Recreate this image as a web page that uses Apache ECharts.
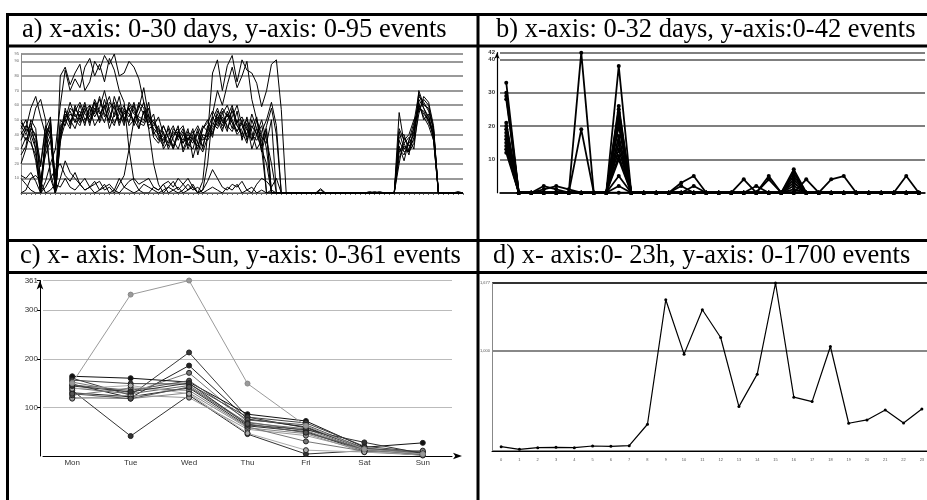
<!DOCTYPE html>
<html>
<head>
<meta charset="utf-8">
<script src="https://cdn.jsdelivr.net/npm/echarts@6.0.0/dist/echarts.min.js"></script>
<style>
html, body { margin: 0; padding: 0; background: #fff; }
#chart { width: 927px; height: 500px; }
</style>
</head>
<body>
<div id="chart"></div>
<script>
// ---- panel titles ----
var titles = [
    'a) x-axis: 0-30 days, y-axis: 0-95 events',
    'b) x-axis: 0-32 days, y-axis:0-42 events',
    'c) x- axis: Mon-Sun, y-axis: 0-361 events',
    'd) x- axis:0- 23h, y-axis: 0-1700 events'
];

// ---- a) 30 days, three samples a day ----
var daysA = ['0','0.3','0.7','1','1.3','1.7','2','2.3','2.7','3','3.3','3.7','4','4.3','4.7','5','5.3','5.7',
    '6','6.3','6.7','7','7.3','7.7','8','8.3','8.7','9','9.3','9.7','10','10.3','10.7','11','11.3','11.7',
    '12','12.3','12.7','13','13.3','13.7','14','14.3','14.7','15','15.3','15.7','16','16.3','16.7','17','17.3','17.7',
    '18','18.3','18.7','19','19.3','19.7','20','20.3','20.7','21','21.3','21.7','22','22.3','22.7','23','23.3','23.7',
    '24','24.3','24.7','25','25.3','25.7','26','26.3','26.7','27','27.3','27.7','28','28.3','28.7','29','29.3','29.7','30'];

var a01 = [48,44,40,30,0,38,46,0,40,52,56,48,60,50,55,62,48,58,66,52,60,50,58,46,54,62,50,44,40,36,44,30,40,34,42,38,30,44,48,56,50,58,52,60,46,40,52,36,44,28,42,0,0,0,0,
    0,0,0,0,0,0,2,0,0,0,0,0,0,0,0,0,1,0,1,0,0, 0,42,30,34,40,64,58,52,40,0, 0,0,0,1,0];
var a02 = [44,50,36,22,0,30,40,12,46,50,44,58,52,62,48,56,64,54,50,60,46,56,52,62,48,46,54,38,34,42,30,38,46,28,36,44,26,40,38,50,58,48,54,44,56,36,48,30,40,50,36,20,0,0,0,
    0,0,0,0,0,0,3,0,0,0,0,0,0,0,0,0,0,0,0,0,0, 0,30,26,36,44,60,54,50,38,0, 0,0,0,0,0];
var a03 = [40,46,42,35,18,44,52,0,36,48,54,50,46,56,60,52,58,70,56,48,54,60,46,50,58,72,52,48,44,34,40,46,36,42,30,38,40,32,44,52,46,54,60,50,42,48,38,44,52,32,46,58,40,0,0,
    0,0,0,0,0,0,0,0,0,0,0,0,0,0,0,0,0,0,0,0,0, 0,24,32,28,38,66,62,56,44,0, 0,0,0,0,0];
var a04 = [50,42,46,38,10,26,36,4,42,56,50,44,54,48,58,46,52,60,44,54,66,48,62,56,50,48,58,42,36,46,38,32,42,46,34,30,42,36,40,46,54,44,50,56,46,42,34,50,40,46,30,0,0,0,0,
    0,0,0,0,0,0,0,0,0,0,0,0,0,0,0,0,0,0,0,0,0, 0,36,28,30,42,58,56,48,40,0, 0,0,0,0,0];
var a05 = [30,38,34,26,0,40,48,8,50,46,58,54,48,60,52,64,56,48,62,58,50,54,58,48,60,54,46,50,42,38,32,44,40,36,44,24,36,46,42,48,44,52,46,42,50,38,44,40,36,42,50,62,46,0,0,
    0,0,0,0,0,0,0,0,0,0,0,0,0,0,0,0,0,0,0,0,0, 0,20,38,32,36,70,60,58,42,0, 0,0,0,0,0];
var a06 = [46,40,48,30,4,34,44,0,38,54,48,56,62,54,50,58,50,64,52,46,58,52,48,60,44,56,48,54,38,32,46,36,30,40,36,42,34,28,38,44,50,42,56,48,40,44,50,42,30,36,44,0,0,0,0,
    0,0,0,0,0,0,0,0,0,0,0,0,0,0,0,0,0,0,0,0,0, 0,55,34,26,46,62,50,54,36,0, 0,0,0,0,0];
var a07 = [20,30,44,58,64,50,10,0,80,86,74,82,88,70,76,90,84,94,88,95,80,82,90,86,78,62,44,20,6,0,4,8,2,6,10,4,0,8,40,82,91,70,87,94,76,91,84,82,75,59,70,88,91,57,0,
    0,0,0,0,0,0,0,0,0,0,0,0,0,0,0,0,0,0,0,0,0, 0,44,36,40,50,56,64,60,44,0, 0,0,0,0,0];
var a08 = [10,6,2,0,0,8,20,30,60,84,70,78,72,86,92,80,88,76,92,84,70,62,30,8,2,0,0,4,2,6,0,2,4,0,2,6,0,2,20,54,70,60,74,86,72,80,90,64,50,30,0,0,0,0,0,
    0,0,0,0,0,0,0,0,0,0,0,0,0,0,0,0,0,0,0,0,0, 0,0,0,0,0,0,0,0,0,0, 0,0,0,0,0];
var a09 = [12,10,14,8,0,4,10,16,20,12,8,14,6,10,4,8,2,6,0,2,10,4,8,10,6,8,10,4,2,6,8,4,10,6,2,4,0,2,8,16,10,4,2,6,4,8,2,0,6,10,8,4,10,0,0,
    0,0,0,0,0,0,0,0,0,0,0,0,0,0,0,0,0,1,0,0,0, 0,0,0,0,0,0,0,0,0,0, 0,0,0,0,0];
var a10 = [36,44,58,66,52,40,14,0,10,22,14,10,6,2,4,6,8,2,4,0,6,12,30,50,44,56,52,48,40,46,38,30,42,34,40,36,32,44,50,40,52,46,54,48,42,50,36,46,40,30,20,0,0,0,0,
    0,0,0,0,0,0,0,0,0,0,0,0,0,0,0,0,0,0,0,0,0, 0,38,40,28,34,54,66,62,46,0, 0,0,0,0,0];
var a11 = [42,36,44,40,20,46,40,2,44,50,62,52,56,46,60,54,66,52,58,62,48,58,54,50,62,58,44,46,52,40,34,42,38,44,32,40,46,38,36,42,48,56,44,52,60,46,40,54,44,38,34,50,0,0,0,
    0,0,0,0,0,0,0,0,0,0,0,0,0,0,0,0,0,0,0,0,0, 0,28,34,38,30,60,52,46,36,0, 0,0,0,0,0];
var a12 = [26,32,50,44,6,36,50,0,34,58,46,60,50,58,46,62,54,60,48,66,56,46,60,54,52,50,62,40,46,30,36,40,44,30,38,34,44,30,46,38,56,50,42,58,48,52,44,36,50,40,0,0,0,0,0,
    0,0,0,0,0,0,0,0,0,0,0,0,0,0,0,0,0,0,0,0,0, 0,32,22,36,48,68,58,50,42,0, 0,0,0,0,0];
var a13 = [0,2,10,12,8,0,2,6,4,10,4,2,6,2,4,0,2,4,6,2,0,4,2,0,2,6,4,2,0,2,4,2,0,2,6,2,4,0,2,4,2,0,4,2,6,0,2,4,0,2,0,2,0,0,0,
    0,0,0,0,0,0,0,0,0,0,0,0,0,0,0,0,0,0,0,0,0, 0,0,0,0,0,0,0,0,0,0, 0,0,0,0,0];
var monthA = [a01, a02, a03, a04, a05, a06, a07, a08, a09, a10, a11, a12, a13];

// ---- b) 0-32 days ----
var daysB = ['0','1','2','3','4','5','6','7','8','9','10','11','12','13','14','15','16','17','18','19','20',
    '21','22','23','24','25','26','27','28','29','30','31','32','33'];
var b01 = [33,0,0,0,0,0,42,0,0,38,0,0,0,0,0,0,0,0,0,0,0,0,0,7,0,0,0,0,0,0,0,0,0,0];
var b02 = [30,0,0,0,0,0,19,0,0,26,0,0,0,0,0,0,0,0,0,0,0,5,0,0,0,0,4,5,0,0,0,0,0,0];
var b03 = [29,0,0,2,1,0,0,0,0,25,0,0,0,0,3,5,0,0,0,0,0,0,0,5,0,0,0,0,0,0,0,0,0,0];
var b04 = [28,0,0,1,2,1,0,0,0,24,0,0,0,0,0,0,0,0,0,4,0,0,0,4,0,0,0,0,0,0,0,0,0,0];
var b05 = [21,0,0,0,0,0,0,0,0,22,0,0,0,0,0,2,0,0,0,0,2,0,0,0,4,0,0,0,0,0,0,0,0,0];
var b06 = [20,0,0,0,0,0,0,0,0,17,0,0,0,0,0,0,0,0,0,0,0,4,0,3,0,0,0,0,0,0,0,0,5,0];
var b07 = [19,0,0,0,0,0,0,0,0,13,0,0,0,0,2,0,0,0,0,0,0,0,0,2,0,0,0,0,0,0,0,0,0,0];
var b08 = [17,0,0,0,0,0,0,0,0,10,0,0,0,0,0,0,0,0,0,0,0,0,0,6,0,0,0,0,0,0,0,0,0,0];
var b09 = [15,0,0,0,0,0,0,0,0,2,0,0,0,0,0,0,0,0,0,0,0,0,0,1,0,0,0,0,0,0,0,0,0,0];
var b10 = [13,0,0,0,0,0,0,0,0,0,0,0,0,0,0,0,0,0,0,0,0,0,0,0,0,0,0,0,0,0,0,0,0,0];
var b11 = [16,0,0,0,0,0,0,0,0,20,0,0,0,0,0,0,0,0,0,0,0,0,0,0,0,0,0,0,0,0,0,0,0,0];
var b12 = [14,0,0,0,0,0,0,0,0,15,0,0,0,0,0,0,0,0,0,0,0,0,0,0,0,0,0,0,0,0,0,0,0,0];
var b13 = [18,0,0,0,0,0,0,0,0,11,0,0,0,0,0,0,0,0,0,0,0,0,0,0,0,0,0,0,0,0,0,0,0,0];
var b14 = [12,0,0,0,0,0,0,0,0,5,0,0,0,0,0,0,0,0,0,0,0,0,0,0,0,0,0,0,0,0,0,0,0,0];
var monthB = [b01, b02, b03, b04, b05, b06, b07, b08, b09, b10, b11, b12, b13, b14];

// ---- c) Mon-Sun ----
var weekDays = ['Mon', 'Tue', 'Wed', 'Thu', 'Fri', 'Sat', 'Sun'];
var c01 = [150, 332, 361, 149, 62, 14, 4];
var c02 = [135, 41, 125, 45, 4, 11, 4];
var c03 = [160, 125, 213, 80, 58, 16, 8];
var c04 = [148, 120, 186, 76, 60, 14, 5];
var c05 = [152, 130, 171, 70, 52, 12, 3];
var c06 = [164, 160, 152, 86, 72, 18, 27];
var c07 = [156, 149, 148, 80, 68, 20, 8];
var c08 = [146, 135, 155, 74, 64, 16, 6];
var c09 = [140, 128, 145, 68, 56, 12, 4];
var c10 = [130, 122, 140, 62, 50, 10, 2];
var c11 = [120, 118, 130, 58, 46, 8, 2];
var c12 = [118, 125, 120, 55, 42, 12, 1];
var c13 = [125, 140, 135, 60, 30, 10, 11];
var c14 = [138, 145, 128, 47, 12, 8, 5];
var c15 = [144, 132, 150, 64, 54, 28, 5];
var c16 = [128, 118, 142, 66, 48, 14, 3];
var week = [c01, c02, c03, c04, c05, c06, c07, c08, c09, c10, c11, c12, c13, c14, c15, c16];
var weekColors = ['#9a9a9a', '#333', '#3a3a3a', '#222', '#777', '#111', '#444', '#555', '#666', '#2a2a2a',
    '#888', '#999', '#777', '#aaa', '#333', '#555'];

// ---- d) 0-23h ----
var hours = ['0','1','2','3','4','5','6','7','8','9','10','11','12','13','14','15','16','17','18','19','20','21','22','23'];
var perHour = [43, 17, 33, 37, 33, 50, 47, 53, 267, 1510, 967, 1410, 1133, 443, 767, 1677, 537, 493, 1043, 277, 310, 410, 280, 420];

var serif = '"Liberation Serif", "DejaVu Serif", serif';
var sans = '"Liberation Sans", Arial, sans-serif';

function fitSize(text, width) {
    var ctx = document.createElement('canvas').getContext('2d');
    ctx.font = '100px ' + serif;
    return 100 * width / ctx.measureText(text).width;
}
var titleWidths = [430, 421, 435, 417];
var titleSize = 0;
titles.forEach(function (t, i) { titleSize += fitSize(t, titleWidths[i]) / 4; });

var titleX = [22, 496, 20, 493];
var titleY = [30, 30, 256, 256];

var graphics = [];
titles.forEach(function (t, i) {
    graphics.push({
        type: 'text', x: titleX[i], y: titleY[i], z: 100,
        style: { text: t, fontSize: titleSize, fontFamily: serif, fill: '#000', verticalAlign: 'middle' }
    });
});
var rules = [
    [6, 14.5, 927, 14.5], [6, 46, 927, 46], [6, 240.5, 927, 240.5], [6, 272.5, 927, 272.5],
    [7.5, 13, 7.5, 500], [478, 13, 478, 500]
];
rules.forEach(function (r) {
    graphics.push({
        type: 'line', z: 100,
        shape: { x1: r[0], y1: r[1], x2: r[2], y2: r[3] },
        style: { stroke: '#000', lineWidth: 3 }
    });
});

var chart = echarts.init(document.getElementById('chart'), null, { renderer: 'canvas' });

var series = [];
monthA.forEach(function (arr) {
    series.push({
        type: 'line', xAxisIndex: 0, yAxisIndex: 0, data: arr, showSymbol: false,
        lineStyle: { color: '#000', width: 1 }, silent: true
    });
});
monthB.forEach(function (arr) {
    series.push({
        type: 'line', xAxisIndex: 1, yAxisIndex: 1, data: arr,
        symbol: 'circle', symbolSize: 4, showAllSymbol: true,
        itemStyle: { color: '#000' }, lineStyle: { color: '#000', width: 1.8 }, silent: true
    });
});
week.forEach(function (arr, i) {
    series.push({
        type: 'line', xAxisIndex: 3, yAxisIndex: 2, data: arr,
        symbol: 'circle', symbolSize: 5, showAllSymbol: true, z: i === 0 ? 3 : 2,
        itemStyle: { color: weekColors[i], borderColor: i === 0 ? '#888' : '#222', borderWidth: 1 },
        lineStyle: { color: weekColors[i], width: 1 }, silent: true
    });
});
series.push({
    type: 'line', xAxisIndex: 4, yAxisIndex: 3, data: perHour,
    symbol: 'circle', symbolSize: 3, showAllSymbol: true,
    itemStyle: { color: '#000' }, lineStyle: { color: '#000', width: 1.2 }, silent: true
});

var tinyLabel = { fontSize: 4, color: '#555', fontFamily: sans };

chart.setOption({
    animation: false,
    backgroundColor: '#fff',
    graphic: graphics,
    grid: [
        { left: 21, top: 54, width: 442, height: 139, outerBoundsMode: 'none' },
        { left: 500, top: 52.7, width: 425, height: 140, outerBoundsMode: 'none' },
        { left: 43, top: 280.5, width: 409, height: 175.5, outerBoundsMode: 'none' },
        { left: 492, top: 283, width: 439, height: 168, outerBoundsMode: 'none' }
    ],
    xAxis: [
        {
            gridIndex: 0, type: 'category', data: daysA, boundaryGap: false,
            axisLine: { lineStyle: { color: '#555', width: 1 } },
            axisTick: { interval: 0, length: 2, lineStyle: { color: '#666' } },
            axisLabel: { show: false }, splitLine: { show: false }
        },
        {
            gridIndex: 1, type: 'category', data: daysB, boundaryGap: true,
            axisLine: { lineStyle: { color: '#000', width: 1.5 } },
            axisTick: { interval: 0, length: 3, lineStyle: { color: '#000' } },
            axisLabel: { show: false }, splitLine: { show: false }
        },
        {
            gridIndex: 1, type: 'category', data: daysB, boundaryGap: true, position: 'bottom',
            axisLine: { show: false },
            axisTick: { interval: 0, alignWithLabel: true, length: 3, lineStyle: { color: '#000' } },
            axisLabel: { show: false }, splitLine: { show: false }
        },
        {
            gridIndex: 2, type: 'category', data: weekDays, boundaryGap: true,
            axisLine: { symbol: ['none', 'arrow'], symbolSize: [5, 9], symbolOffset: [0, 10], lineStyle: { color: '#000', width: 1 } },
            axisTick: { interval: 0, length: 4, lineStyle: { color: '#000' } },
            axisLabel: { fontSize: 8, color: '#333', fontFamily: sans, margin: 3 },
            splitLine: { show: false }
        },
        {
            gridIndex: 3, type: 'category', data: hours, boundaryGap: true,
            axisLine: { lineStyle: { color: '#000', width: 1 } },
            axisTick: { interval: 0, length: 4, lineStyle: { color: '#000' } },
            axisLabel: Object.assign({ interval: 0, margin: 7 }, tinyLabel),
            splitLine: { show: false }
        },
        {
            gridIndex: 3, type: 'category', data: hours, boundaryGap: true, position: 'bottom',
            axisLine: { show: false },
            axisTick: { interval: 0, alignWithLabel: true, length: 4, lineStyle: { color: '#000' } },
            axisLabel: { show: false }, splitLine: { show: false }
        }
    ],
    yAxis: [
        {
            gridIndex: 0, type: 'value', min: 0, max: 95, interval: 10,
            axisLine: { show: true, lineStyle: { color: '#888', width: 1 } },
            axisTick: { show: false },
            axisLabel: { fontSize: 4, color: '#666', margin: 2, fontFamily: sans, showMinLabel: false },
            splitLine: { lineStyle: { color: '#999', width: 2 } }
        },
        {
            gridIndex: 1, type: 'value', min: 0, max: 42, interval: 10, offset: 3,
            axisLine: { show: true, symbol: ['none', 'arrow'], symbolSize: [4, 6], lineStyle: { color: '#000', width: 1.2 } },
            axisTick: { show: false },
            axisLabel: { fontSize: 6, color: '#333', margin: 2, fontFamily: sans, fontWeight: 'bold', showMinLabel: false },
            splitLine: { lineStyle: { color: '#555', width: 1.5 } }
        },
        {
            gridIndex: 2, type: 'value', min: 0, max: 361, interval: 100, offset: 3,
            axisLine: { show: true, symbol: ['none', 'arrow'], symbolSize: [5, 9], lineStyle: { color: '#000', width: 1 } },
            axisTick: { show: true, length: 3, lineStyle: { color: '#000' } },
            axisLabel: { fontSize: 8, color: '#333', margin: 2, fontFamily: sans, showMinLabel: false },
            splitLine: { lineStyle: { color: '#bbb', width: 1 } }
        },
        {
            gridIndex: 3, type: 'value', min: 0, max: 1677, interval: 1000,
            axisLine: { show: true, lineStyle: { color: '#888', width: 1 } },
            axisTick: { show: false },
            axisLabel: Object.assign({ margin: 2, showMinLabel: false }, tinyLabel),
            splitLine: { lineStyle: { color: ['#888', '#888', '#333'], width: 2 } }
        }
    ],
    series: series
});
</script>
</body>
</html>
